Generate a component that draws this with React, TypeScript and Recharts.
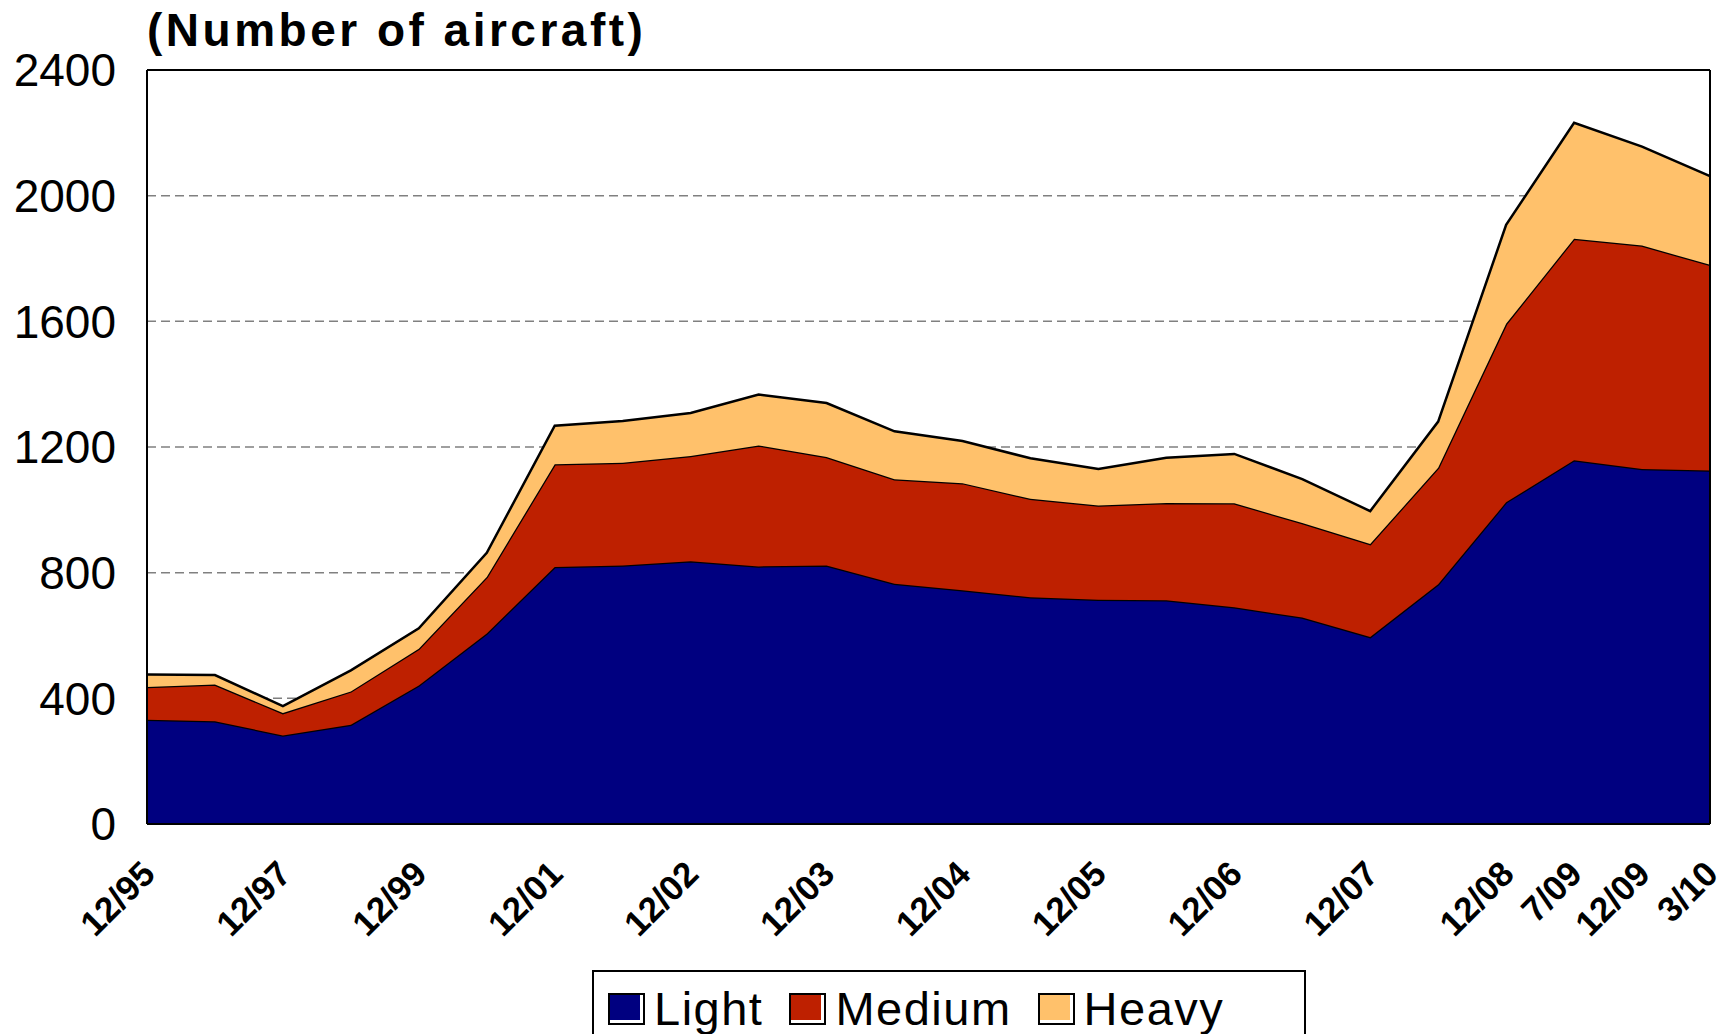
import React from 'react'
import { AreaChart, Area, XAxis, YAxis, CartesianGrid, ReferenceLine } from 'recharts'

// reporting dates (every point), only some of them carry a label
const categories = [
  '12/95', '12/96', '12/97', '12/98', '12/99', '12/00', '12/01', '6/02', '12/02', '6/03', '12/03', '6/04',
  '12/04', '6/05', '12/05', '6/06', '12/06', '6/07', '12/07', '6/08', '12/08', '7/09', '12/09', '3/10',
]
const labelledTicks = [
  '12/95', '12/97', '12/99', '12/01', '12/02', '12/03', '12/04', '12/05', '12/06', '12/07', '12/08', '7/09', '12/09', '3/10',
]

// number of aircraft by weight class (stacked)
const light = [332, 327, 282, 316, 441, 606, 818, 823, 836, 820, 823, 765, 744, 722, 714, 712, 690, 657, 595, 763, 1024, 1158, 1130, 1125]
const medium = [104, 117, 71, 106, 117, 180, 327, 327, 335, 385, 345, 332, 341, 313, 300, 310, 331, 301, 296, 371, 568, 705, 711, 655]
const heavy = [40, 30, 22, 67, 65, 77, 123, 133, 137, 162, 172, 153, 134, 129, 116, 144, 157, 140, 105, 147, 315, 369, 315, 282]

const yTicks = [0, 400, 800, 1200, 1600, 2000, 2400]

const series = [
  { key: 'light', name: 'Light', color: '#000080' },
  { key: 'medium', name: 'Medium', color: '#BE2000' },
  { key: 'heavy', name: 'Heavy', color: '#FFC16B' },
]

const data = categories.map((period, i) => ({
  period,
  light: light[i],
  medium: medium[i],
  heavy: heavy[i],
}))

const font = '"Liberation Sans", Arial, sans-serif'

function PeriodTick({ x, y, payload }: any) {
  if (!labelledTicks.includes(payload.value)) return <g />
  const ax = x + 10
  const ay = y + 52
  return (
    <text
      x={ax}
      y={ay}
      transform={`rotate(-45 ${ax} ${ay})`}
      textAnchor="end"
      fontSize={35}
      fontWeight="bold"
      fontFamily={font}
      fill="#000"
    >
      {payload.value}
    </text>
  )
}

export default function App() {
  return (
    <div style={{ position: 'absolute', left: 0, top: 0, width: 1736, height: 1034, overflow: 'hidden', background: '#fff' }}>
      <div
        style={{
          position: 'absolute',
          left: 147,
          top: 7,
          fontFamily: font,
          fontWeight: 'bold',
          fontSize: 46,
          lineHeight: '46px',
          letterSpacing: 3.5,
          color: '#000',
          whiteSpace: 'nowrap',
        }}
      >
        (Number of aircraft)
      </div>

      <AreaChart width={1736} height={1034} data={data} margin={{ top: 70, right: 26, bottom: 0, left: 0 }}>
        <CartesianGrid vertical={false} stroke="#808080" strokeWidth={1.5} strokeDasharray="9 5" />
        <XAxis
          dataKey="period"
          height={210}
          interval={0}
          tickLine={false}
          tickSize={0}
          tickMargin={0}
          axisLine={{ stroke: '#000', strokeWidth: 2 }}
          tick={<PeriodTick />}
        />
        <YAxis
          domain={[0, 2400]}
          ticks={yTicks}
          width={147}
          tickLine={false}
          tickSize={0}
          tickMargin={31}
          axisLine={{ stroke: '#000', strokeWidth: 2 }}
          tick={{ fontSize: 46, fill: '#000', fontFamily: font }}
        />
        {series.map((s) => (
          <Area
            key={s.key}
            type="linear"
            dataKey={s.key}
            name={s.name}
            stackId="fleet"
            fill={s.color}
            fillOpacity={1}
            stroke="#000"
            strokeWidth={2.5}
            isAnimationActive={false}
          />
        ))}
        {/* plot frame: top and right edges */}
        <ReferenceLine y={2400} stroke="#000" strokeWidth={2} />
        <ReferenceLine x={categories[categories.length - 1]} stroke="#000" strokeWidth={2} />
      </AreaChart>

      <div
        style={{
          position: 'absolute',
          left: 592,
          top: 970,
          width: 714,
          height: 90,
          border: '2px solid #000',
          boxSizing: 'border-box',
          display: 'flex',
          alignItems: 'flex-start',
          paddingLeft: 14,
          paddingTop: 14,
          fontFamily: font,
          fontSize: 47,
          lineHeight: '46px',
          letterSpacing: 1.5,
          color: '#000',
        }}
      >
        {series.map((s) => (
          <div key={s.key} style={{ display: 'flex', alignItems: 'center', marginRight: 26 }}>
            <div
              style={{
                width: 37,
                height: 32,
                border: '2px solid #000',
                boxSizing: 'border-box',
                background: '#fff',
                marginRight: 9,
                position: 'relative',
              }}
            >
              <div style={{ position: 'absolute', left: 0, top: 0, right: 3, bottom: 3, background: s.color }} />
            </div>
            <span>{s.name}</span>
          </div>
        ))}
      </div>
    </div>
  )
}
